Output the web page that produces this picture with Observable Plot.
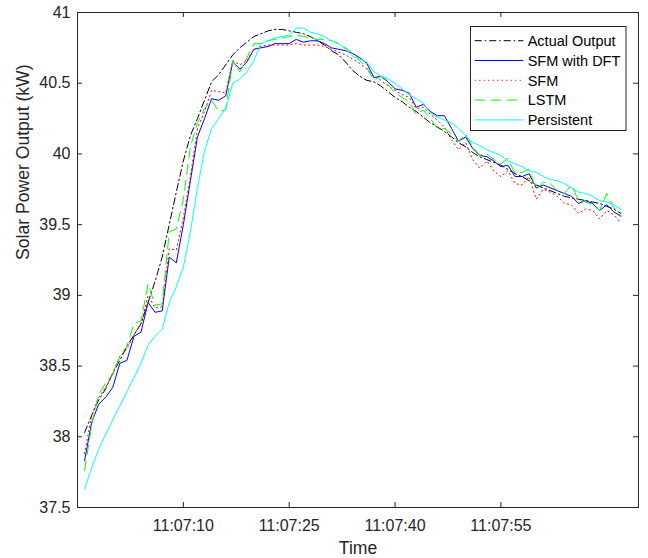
<!DOCTYPE html>
<html>
<head>
<meta charset="utf-8">
<script src="https://cdn.jsdelivr.net/npm/d3@7"></script>
<script src="https://cdn.jsdelivr.net/npm/@observablehq/plot@0.6"></script>
<style>
  html, body { margin: 0; padding: 0; background: #fff; }
  #wrap { position: relative; width: 648px; height: 558px; }
  #legend { position: absolute; left: 0; top: 0; pointer-events: none; }
</style>
</head>
<body>
<div id="wrap"></div>
<script>
// Sampling: one value per second starting at 11:06:56
const startTime = "11:06:56";
const axisStart = "11:06:55";
const axisEnd = "11:08:14.5";
const xTickLabels = ["11:07:10", "11:07:25", "11:07:40", "11:07:55"];
const yTicks = [37.5, 38, 38.5, 39, 39.5, 40, 40.5, 41];
const seriesNames = ["Actual Output", "SFM with DFT", "SFM", "LSTM", "Persistent"];

const actual = [38.03,38.15,38.26,38.34,38.45,38.54,38.64,38.72,38.80,38.95,
39.10,39.27,39.50,39.73,39.95,40.13,40.25,40.38,40.51,40.56,
40.63,40.70,40.75,40.79,40.83,40.85,40.87,40.88,40.88,40.87,
40.86,40.85,40.83,40.80,40.77,40.73,40.70,40.65,40.59,40.55,
40.52,40.51,40.48,40.44,40.40,40.37,40.33,40.30,40.26,40.22,
40.19,40.16,40.12,40.08,40.05,40.01,39.98,39.96,39.94,39.92,
39.89,39.86,39.84,39.81,39.78,39.76,39.74,39.72,39.70,39.69,
39.68,39.67,39.66,39.65,39.63,39.61,39.58];

const sfmDft = [37.83,38.10,38.23,38.28,38.35,38.52,38.54,38.71,38.74,38.95,
38.88,38.89,39.27,39.23,39.50,39.81,40.12,40.25,40.39,40.38,
40.41,40.65,40.60,40.65,40.74,40.75,40.76,40.78,40.78,40.78,
40.81,40.79,40.80,40.80,40.78,40.75,40.74,40.73,40.71,40.68,
40.64,40.54,40.55,40.51,40.46,40.45,40.43,40.33,40.35,40.30,
40.27,40.27,40.18,40.09,40.12,40.04,39.99,39.98,39.95,39.91,
39.92,39.84,39.84,39.86,39.76,39.78,39.76,39.74,39.72,39.70,
39.65,39.67,39.65,39.60,39.64,39.59,39.56];

const sfm = [37.88,38.15,38.28,38.35,38.45,38.57,38.62,38.72,38.80,39.00,
38.91,38.92,39.33,39.32,39.55,39.84,40.18,40.30,40.45,40.44,
40.43,40.66,40.63,40.66,40.74,40.76,40.77,40.77,40.77,40.77,
40.78,40.77,40.77,40.77,40.76,40.74,40.72,40.70,40.67,40.64,
40.60,40.55,40.52,40.48,40.45,40.42,40.40,40.32,40.33,40.28,
40.24,40.19,40.10,40.03,40.08,39.96,39.90,39.95,39.88,39.84,
39.88,39.79,39.78,39.84,39.68,39.75,39.73,39.70,39.65,39.64,
39.58,39.61,39.60,39.54,39.60,39.57,39.51];

const lstm = [37.76,38.08,38.30,38.38,38.44,38.57,38.64,38.80,38.82,39.08,
38.93,38.94,39.45,39.47,39.68,40.05,40.22,40.32,40.38,40.30,
40.31,40.66,40.58,40.68,40.78,40.78,40.80,40.81,40.82,40.83,
40.84,40.83,40.82,40.81,40.81,40.80,40.78,40.75,40.71,40.66,
40.61,40.52,40.55,40.49,40.43,40.40,40.37,40.28,40.31,40.25,
40.18,40.18,40.14,40.09,40.14,40.05,39.99,40.00,39.96,39.93,
39.97,39.86,39.87,39.89,39.75,39.80,39.79,39.74,39.72,39.78,
39.67,39.66,39.64,39.60,39.72,39.62,39.56];

const persistent = [37.63,37.78,37.91,38.02,38.12,38.22,38.32,38.42,38.52,38.65,
38.71,38.76,38.95,39.06,39.20,39.45,39.76,40.02,40.18,40.25,
40.32,40.50,40.53,40.58,40.66,40.78,40.80,40.82,40.83,40.84,
40.89,40.89,40.86,40.85,40.83,40.80,40.78,40.74,40.69,40.67,
40.65,40.58,40.55,40.53,40.50,40.46,40.42,40.39,40.36,40.29,
40.26,40.24,40.22,40.18,40.13,40.08,40.06,40.03,40.01,39.99,
39.95,39.93,39.91,39.88,39.87,39.84,39.82,39.81,39.79,39.76,
39.73,39.72,39.70,39.67,39.66,39.64,39.61];

// helpers
const toDate = s => {
  const [h, m, sec] = s.split(":").map(Number);
  return new Date(Date.UTC(2020, 0, 1, h, m, 0) + sec * 1000);
};
const t0 = toDate(startTime);
const times = actual.map((_, i) => new Date(+t0 + i * 1000));
const xTicks = xTickLabels.map(toDate);

const styles = [
  { name: seriesNames[0], values: actual,     stroke: "#000000", dash: "7,3,1.5,3" },
  { name: seriesNames[1], values: sfmDft,     stroke: "#0000ff", dash: null },
  { name: seriesNames[2], values: sfm,        stroke: "#ff0000", dash: "1.2,3.3" },
  { name: seriesNames[3], values: lstm,       stroke: "#00ff00", dash: "10,6" },
  { name: seriesNames[4], values: persistent, stroke: "#00ffff", dash: null }
];

const W = 648, H = 558;
const mL = 77, mR = 10, mT = 12, mB = 51;
const plotW = W - mL - mR, plotH = H - mT - mB;
const tickLen = 5;
const ink = "#262626";

const lineMarks = styles.map(s =>
  Plot.line(s.values.map((v, i) => ({ t: times[i], v })), {
    x: "t", y: "v", stroke: s.stroke, strokeWidth: 1,
    strokeDasharray: s.dash || undefined, strokeLinejoin: "round"
  })
);

const chart = Plot.plot({
  width: W, height: H,
  marginLeft: mL, marginRight: mR, marginTop: mT, marginBottom: mB,
  style: { fontFamily: "'Liberation Sans', Arial, sans-serif", color: ink, background: "#fff" },
  x: { type: "utc", domain: [toDate(axisStart), toDate(axisEnd)] },
  y: { domain: [37.5, 41] },
  marks: [
    ...lineMarks,
    Plot.frame({ stroke: ink, strokeWidth: 1 }),
    // inward ticks (bottom, top, left, right)
    Plot.ruleX(xTicks, { x: d => d, stroke: ink, insetTop: plotH - tickLen }),
    Plot.ruleX(xTicks, { x: d => d, stroke: ink, insetBottom: plotH - tickLen }),
    Plot.ruleY(yTicks, { y: d => d, stroke: ink, insetRight: plotW - tickLen }),
    Plot.ruleY(yTicks, { y: d => d, stroke: ink, insetLeft: plotW - tickLen }),
    Plot.axisX({ ticks: xTicks, tickSize: 0, tickPadding: 12, fontSize: 16,
      tickFormat: d3.utcFormat("%H:%M:%S"), label: null, fill: ink }),
    Plot.axisY({ ticks: yTicks, tickSize: 0, tickPadding: 7, fontSize: 16,
      tickFormat: d => String(d), label: null, fill: ink }),
    Plot.text(["Time"], { frameAnchor: "bottom", text: d => d, dy: 46, fontSize: 17.6, fill: ink }),
    Plot.text(["Solar Power Output (kW)"], { frameAnchor: "left", text: d => d, rotate: -90,
      dx: -54, dy: 0, fontSize: 17.6, fill: ink })
  ]
});

const wrap = document.getElementById("wrap");
wrap.appendChild(chart);

// legend overlay
const lg = d3.select(wrap).append("svg")
  .attr("id", "legend").attr("width", W).attr("height", H)
  .style("font-family", "'Liberation Sans', Arial, sans-serif");
const box = { x: 470.5, y: 26.5, w: 155.5, h: 104 };
lg.append("rect").attr("x", box.x).attr("y", box.y).attr("width", box.w).attr("height", box.h)
  .attr("fill", "#fff").attr("stroke", ink).attr("stroke-width", 1);
styles.forEach((s, i) => {
  const yy = 40.7 + i * 19.8;
  lg.append("line").attr("x1", 474.7).attr("x2", 523.3).attr("y1", yy).attr("y2", yy)
    .attr("stroke", s.stroke).attr("stroke-width", 1)
    .attr("stroke-dasharray", s.dash || null);
  lg.append("text").attr("x", 527.7).attr("y", yy + 5.2)
    .attr("font-size", 14.5).attr("fill", "#000").text(s.name);
});
</script>
</body>
</html>
